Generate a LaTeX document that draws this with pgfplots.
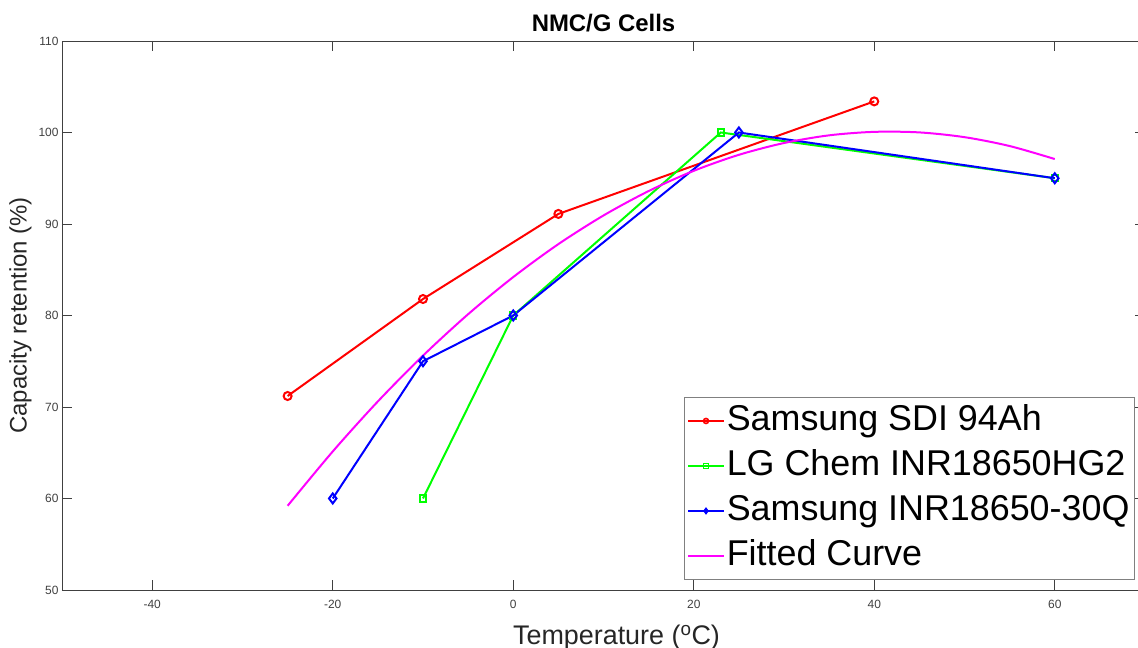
\documentclass[border=0pt]{standalone}
\usepackage{fontspec}
\setmainfont{Liberation Sans}
\usepackage{pgfplots}
\pgfplotsset{compat=1.18}
\usetikzlibrary{calc}
\definecolor{axgray}{RGB}{64,64,64}
\definecolor{lblgray}{RGB}{38,38,38}
\definecolor{cred}{RGB}{255,0,0}
\definecolor{cgreen}{RGB}{0,255,0}
\definecolor{cblue}{RGB}{0,0,255}
\definecolor{cmag}{RGB}{255,0,255}
\begin{document}
\begin{tikzpicture}
\begin{axis}[
  scale only axis, width=1083bp, height=549bp,
  xmin=-50, xmax=70, ymin=50, ymax=110,
  xtick={-40,-20,0,20,40,60}, ytick={50,60,70,80,90,100,110},
  tick align=inside, major tick length=10bp,
  axis line style={axgray, line width=0.8bp},
  every tick/.style={axgray, line width=0.8bp},
  tick label style={font=\fontsize{12}{14}\selectfont, text=axgray},
  xticklabel style={yshift=-7bp},
  /pgf/number format/assume math mode=true,
  title={\textbf{NMC/G Cells}},
  title style={font=\fontsize{24}{28}\selectfont, yshift=0bp},
  xlabel={Temperature (\textsuperscript{o}C)},
  ylabel={Capacity retention (\%)},
  label style={font=\fontsize{24}{28}\selectfont, text=lblgray},
  xlabel style={font=\fontsize{27}{30}\selectfont, yshift=-9bp, xshift=13bp},
  legend cell align=left,
  legend style={at={(1,0)}, anchor=south east, xshift=-10bp, yshift=10bp,
    draw=gray, line width=1bp, inner xsep=3bp, inner ysep=1bp,
    font=\fontsize{36}{42}\selectfont,
    nodes={inner xsep=2bp, inner ysep=5bp, text height=27bp, text depth=8bp}},
  legend image code/.code={\draw[#1, mark size=2.5bp, line width=1.6bp, mark repeat=2, mark phase=2] plot coordinates {(0bp,0bp) (18bp,0bp) (36bp,0bp)};},
]
\coordinate (sw) at (rel axis cs:0,0);
\coordinate (ne) at (rel axis cs:1,1);
\addplot[cred, line width=2bp, mark=o, mark size=4bp] coordinates {
  (-25,71.2) (-10,81.8) (5,91.1) (40,103.4)};
\addlegendentry{Samsung SDI 94Ah}
\addplot[cgreen, line width=2bp, mark=square, mark size=3.2bp] coordinates {
  (-10,60) (0,80) (23,100) (60,95)};
\addlegendentry{LG Chem INR18650HG2}
\addplot[cblue, line width=2bp, mark=diamond, mark size=5bp] coordinates {
  (-20,60) (-10,75) (0,80) (25,100) (60,95)};
\addlegendentry{Samsung INR18650-30Q}
\addplot[cmag, line width=2bp, smooth] coordinates {
  (-25,59.20) (-20,65.14) (-15,70.61) (-10,75.61) (-5,80.14) (0,84.20)
  (5,87.80) (10,90.93) (15,93.60) (20,95.81) (25,97.56) (30,98.85)
  (35,99.69) (40,100.07) (45,100.01) (50,99.49) (55,98.52) (60,97.10)};
\addlegendentry{Fitted Curve}
\end{axis}
\pgfresetboundingbox
\path[use as bounding box] ($(sw)+(-62bp,-58bp)$) rectangle ($(ne)+(-7bp,41bp)$);
\end{tikzpicture}
\end{document}
